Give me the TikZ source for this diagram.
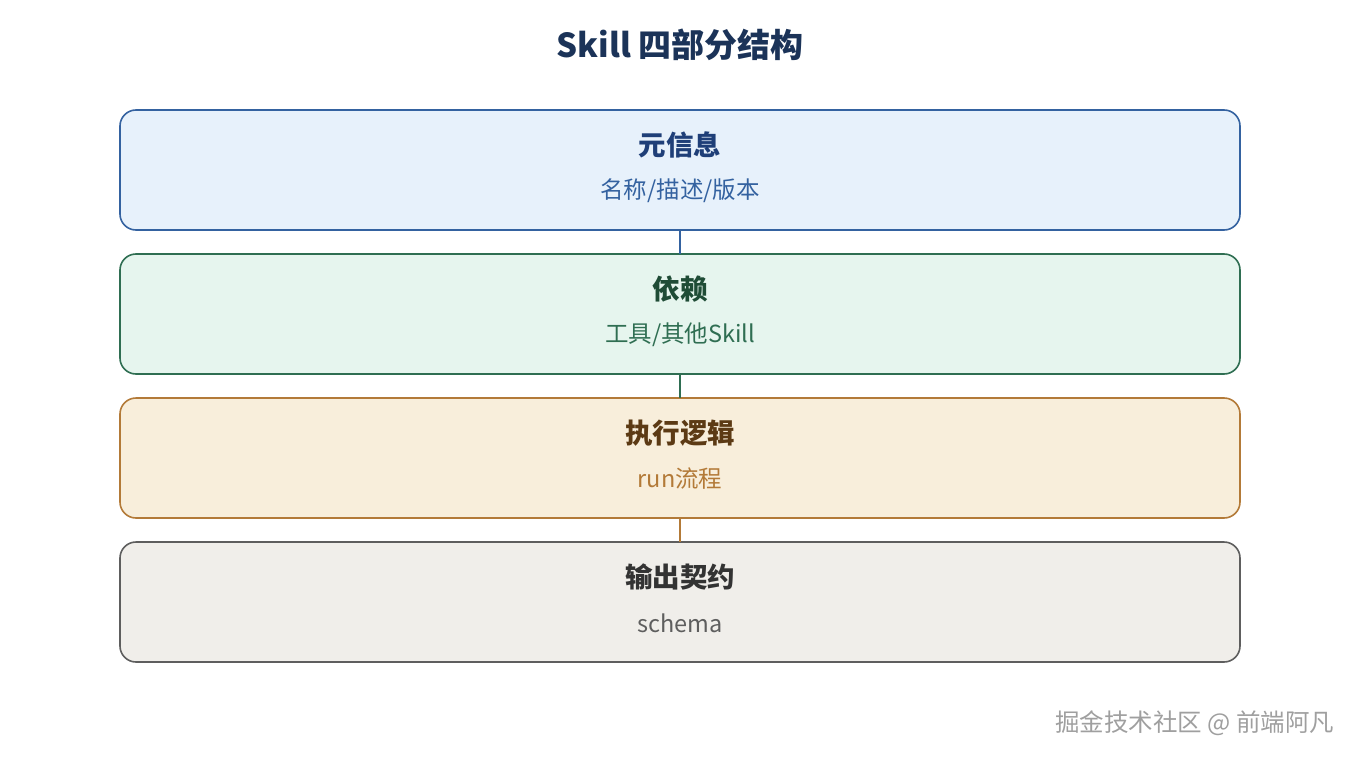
\documentclass[tikz,border=0pt]{standalone}
\usepackage{fontspec}
\setmainfont{Noto Sans CJK SC}
\usepackage{xcolor}
\usetikzlibrary{positioning}

\definecolor{titlenavy}{HTML}{1B3358}
\definecolor{metafill}{HTML}{E7F1FB}
\definecolor{metaline}{HTML}{3462A0}
\definecolor{metatext}{HTML}{1F3F78}
\definecolor{depfill}{HTML}{E6F5EE}
\definecolor{depline}{HTML}{2F6E52}
\definecolor{deptext}{HTML}{1F4C36}
\definecolor{runfill}{HTML}{F8EEDB}
\definecolor{runline}{HTML}{B37A38}
\definecolor{runtext}{HTML}{5C3A14}
\definecolor{outfill}{HTML}{F0EEEA}
\definecolor{outline}{HTML}{5E5E5E}
\definecolor{outtext}{HTML}{333333}

\begin{document}
\begin{tikzpicture}[
    x=1pt, y=-1pt,
    node distance=24pt,
    part/.style={rectangle, rounded corners=16pt, draw, line width=1.6pt, minimum width=1120pt, minimum height=120pt, inner sep=0pt, outer sep=0pt},
    head/.style={font=\fontsize{27.5}{32}\selectfont\bfseries, inner sep=0pt},
    sub/.style={font=\fontsize{23.5}{28}\selectfont, inner sep=0pt},
    link/.style={line width=1.6pt}
]
\useasboundingbox (0,0) rectangle (1360,760);

\node[font=\fontsize{33}{38}\selectfont\bfseries, text=titlenavy] (title) at (680,45) {Skill 四部分结构};

\node[part, fill=metafill, draw=metaline] (meta) at (680,170) {};
\node[part, below=of meta, fill=depfill, draw=depline] (deps) {};
\node[part, below=of deps, fill=runfill, draw=runline] (logic) {};
\node[part, below=of logic, fill=outfill, draw=outline] (contract) {};

\node[head, text=metatext] (metahead) at ([yshift=-35pt]meta.north) {元信息};
\node[sub, text=metaline] (metasub) at ([yshift=-81pt]meta.north) {名称/描述/版本};
\node[head, text=deptext] (depshead) at ([yshift=-35pt]deps.north) {依赖};
\node[sub, text=depline] (depssub) at ([yshift=-81pt]deps.north) {工具/其他Skill};
\node[head, text=runtext] (logichead) at ([yshift=-35pt]logic.north) {执行逻辑};
\node[sub, text=runline] (logicsub) at ([yshift=-81pt]logic.north) {run流程};
\node[head, text=outtext] (contracthead) at ([yshift=-35pt]contract.north) {输出契约};
\node[sub, text=outline] (contractsub) at ([yshift=-81pt]contract.north) {schema};

\draw[link, metaline] (meta) -- (deps);
\draw[link, depline] (deps) -- (logic);
\draw[link, runline] (logic) -- (contract);

\node[anchor=east, font=\fontsize{24.5}{28}\selectfont, text=gray!75] (mark) at (1338,723) {掘金技术社区 @ 前端阿凡};
\end{tikzpicture}
\end{document}
